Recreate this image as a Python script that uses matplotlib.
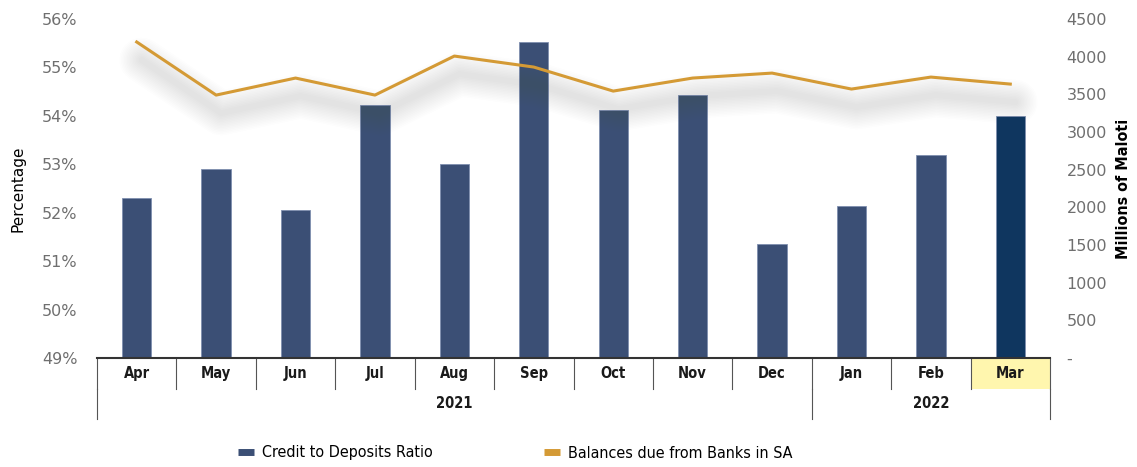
import matplotlib
matplotlib.use("Agg")
import matplotlib.pyplot as plt
import matplotlib.transforms as mtransforms
from matplotlib.lines import Line2D
from matplotlib.patches import Rectangle
import numpy as np

months = ["Apr", "May", "Jun", "Jul", "Aug", "Sep", "Oct", "Nov", "Dec", "Jan", "Feb", "Mar"]
years = ["2021", "2022"]
year_spans = [9, 3]
credit_ratio = [52.30, 52.90, 52.06, 54.22, 53.00, 55.52, 54.12, 54.43, 51.35, 52.14, 53.19, 54.00]
balances_sa = [4195, 3490, 3716, 3490, 4008, 3862, 3543, 3716, 3782, 3570, 3729, 3636]
left_ticks = [49, 50, 51, 52, 53, 54, 55, 56]
right_ticks = [0, 500, 1000, 1500, 2000, 2500, 3000, 3500, 4000, 4500]

bar_color = "#3B4F75"
bar_last = "#0F365F"
line_color = "#D49A35"
tick_gray = "#6F6F6F"
cond = dict(family="DejaVu Sans", fontstretch="condensed")

fig = plt.figure(figsize=(11.37, 4.67), dpi=100)
ax = fig.add_axes([97/1137, 1-358/467, (1050-97)/1137, (358-19)/467])
x = np.arange(len(months))
colors = [bar_color]*(len(months)-1) + [bar_last]
ax.bar(x, [v-49 for v in credit_ratio], bottom=49, width=0.37, color=colors,
       edgecolor="#7F8FAF", linewidth=0.6, zorder=2)
ax.set_xlim(-0.5, len(months)-0.5)
ax.set_ylim(49, 56)
ax.set_yticks(left_ticks)
ax.set_yticklabels([f"{t}%" for t in left_ticks], color=tick_gray, fontsize=11.5)
ax.tick_params(axis="y", length=0, pad=14)
ax.set_xticks([])
for s in ["left", "right", "top"]:
    ax.spines[s].set_visible(False)
ax.spines["bottom"].set_color("#333333")
ax.spines["bottom"].set_linewidth(1.5)
ax.set_ylabel("Percentage", fontsize=11, color="black", labelpad=12)

ax2 = ax.twinx()
ax2.set_ylim(0, 4500)
ax2.set_yticks(right_ticks)
ax2.set_yticklabels(["-" if t == 0 else str(t) for t in right_ticks], color=tick_gray, fontsize=11.5)
ax2.tick_params(axis="y", length=0, pad=12)
for s in ["left", "right", "top", "bottom"]:
    ax2.spines[s].set_visible(False)
ax2.set_ylabel("Millions of Maloti", fontsize=11.5, fontweight="bold", labelpad=6, **cond)

# blurred shadow
off = mtransforms.offset_copy(ax2.transData, fig=fig, x=5, y=-18, units="dots")
for lw in np.linspace(32, 4, 14):
    ax2.plot(x, balances_sa, color="#606060", lw=lw, alpha=0.011, transform=off,
             solid_capstyle="round", solid_joinstyle="round", zorder=3)
ax2.plot(x, balances_sa, color=line_color, lw=2.2, zorder=4)

# category table
btrans = ax.get_xaxis_transform()
row1 = -31/339
row2 = -61/339
ax.add_patch(Rectangle((len(months)-1.5, row1), 1, -row1, transform=btrans,
                       facecolor="#FFF6AE", edgecolor="none", clip_on=False, zorder=0))
for i, m in enumerate(months):
    ax.text(i, row1/2, m, transform=btrans, ha="center", va="center", fontsize=10.5,
            fontweight="bold", color="#1a1a1a", **cond)
for i in range(len(months)+1):
    xb = i - 0.5
    ax.plot([xb, xb], [0, row1], transform=btrans, color="#555555", lw=0.8, clip_on=False)
start = 0
for yr, sp in zip(years, year_spans):
    ax.text(start + sp/2 - 0.5, (row1+row2)/2, yr, transform=btrans, ha="center", va="center",
            fontsize=10.5, fontweight="bold", color="#1a1a1a", **cond)
    start += sp
start = 0
for sp in [0] + year_spans:
    start += sp
    xb = start - 0.5
    ax.plot([xb, xb], [row1, row2], transform=btrans, color="#555555", lw=0.8, clip_on=False)

handles = [Line2D([], [], color=bar_color, lw=5, solid_capstyle="butt"),
           Line2D([], [], color=line_color, lw=5, solid_capstyle="butt")]
fig.legend(handles, ["Credit to Deposits Ratio", "Balances due from Banks in SA"],
           loc="center", bbox_to_anchor=(0.453, 1-453/467), ncol=2, frameon=False,
           prop={"family": "DejaVu Sans", "stretch": "condensed", "size": 11.5}, handlelength=1.0,
           handletextpad=0.5, columnspacing=7)

fig.savefig("out.png", dpi=100)
